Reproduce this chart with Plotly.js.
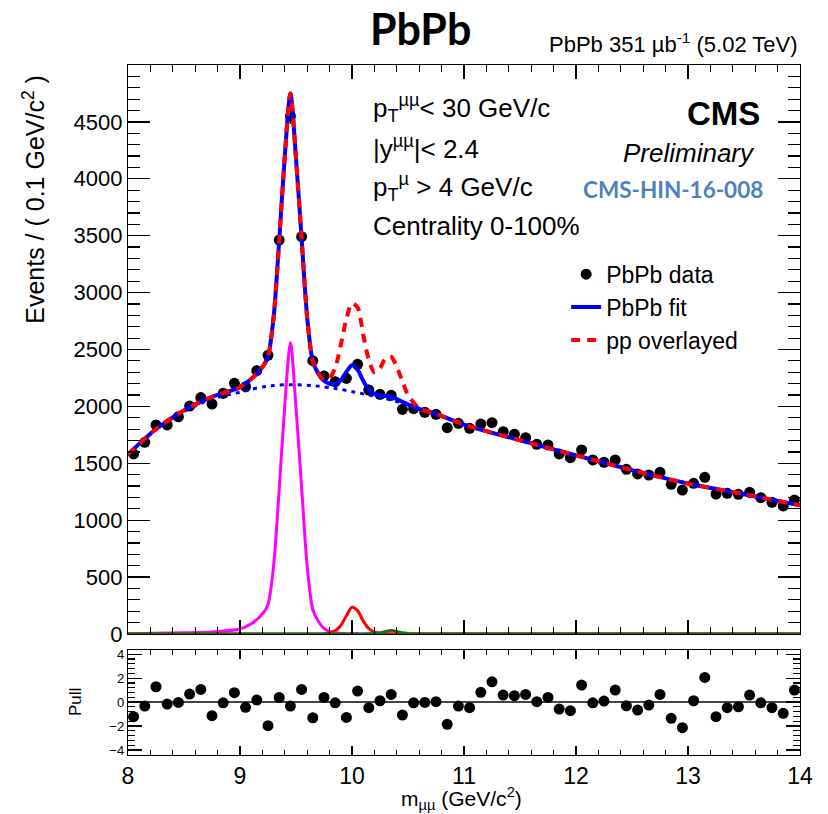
<!DOCTYPE html>
<html>
<head>
<meta charset="utf-8">
<script src="https://cdn.plot.ly/plotly-3.0.1.min.js"></script>
<style>html,body{margin:0;padding:0;background:#fff;}#plot{width:828px;height:814px;}</style>
</head>
<body>
<div id="plot"></div>
<script>
// ---- Data points (bin centers, GeV/c^2) ----
const massBins = [8.05,8.15,8.25,8.35,8.45,8.55,8.65,8.75,8.85,8.95,
  9.05,9.15,9.25,9.35,9.45,9.55,9.65,9.75,9.85,9.95,
  10.05,10.15,10.25,10.35,10.45,10.55,10.65,10.75,10.85,10.95,
  11.05,11.15,11.25,11.35,11.45,11.55,11.65,11.75,11.85,11.95,
  12.05,12.15,12.25,12.35,12.45,12.55,12.65,12.75,12.85,12.95,
  13.05,13.15,13.25,13.35,13.45,13.55,13.65,13.75,13.85,13.95];
const pbpbCounts = [1582,1684,1837,1837,1909,2003,2077,2021,2115,2203,
  2173,2314,2449,3462,4550,3491,2402,2267,2217,2247,
  2370,2144,2106,2097,1974,1980,1948,1930,1813,1851,
  1807,1845,1857,1778,1755,1725,1667,1661,1582,1549,
  1617,1529,1509,1529,1447,1406,1397,1421,1315,1265,
  1324,1377,1230,1236,1227,1245,1198,1157,1125,1177];
const pullValues = [-1.22,-0.33,1.28,-0.17,-0.03,0.67,1.06,-1.14,-0.06,0.78,
  -0.44,0.17,-1.97,0.39,-0.33,1.06,-1.31,0.39,-0.06,-1.28,
  0.92,-0.47,0.11,0.64,-1.08,-0.06,-0.03,0.03,-1.86,-0.33,
  -0.47,0.81,1.69,0.58,0.53,0.64,0.03,0.39,-0.58,-0.72,
  1.42,-0.06,0.08,1.0,-0.31,-0.67,-0.25,0.64,-1.36,-2.14,
  0.11,2.06,-1.22,-0.47,-0.39,0.58,-0.06,-0.47,-0.94,1.0];

// ---- Curves ----
const curveMass = [8.0,8.25,8.5,8.75,9.0,9.1,9.2,9.25,9.3,9.35,
  9.4,9.45,9.5,9.55,9.6,9.65,9.7,9.75,9.8,9.85,
  9.9,9.95,10.0,10.05,10.1,10.15,10.2,10.25,10.3,10.35,
  10.4,10.45,10.5,10.6,10.75,11.0,11.5,12.0,12.5,13.0,13.5,14.0];
const backgroundCurve = [1575,1795,1955,2065,2125,2150,2170,2178,2183,2187,
  2190,2190,2190,2188,2185,2182,2178,2172,2165,2158,
  2150,2140,2130,2120,2110,2100,2090,2080,2068,2055,
  2042,2030,2015,1978,1935,1840,1702,1570,1440,1322,1228,1131];
const pbpbFitCurve = [1578,1801,1965,2083,2169,2240,2345,2438,2783,3457,
  4200,4750,4180,3478,2780,2397,2288,2225,2199,2198,
  2230,2303,2362,2321,2225,2148,2110,2095,2091,2085,
  2064,2040,2019,1978,1935,1840,1702,1570,1440,1322,1228,1131];
const ppOverlayCurve = [1578,1801,1965,2083,2169,2240,2345,2438,2783,3457,
  4200,4750,4180,3478,2780,2397,2288,2235,2250,2340,
  2540,2770,2905,2870,2630,2410,2300,2335,2425,2435,
  2345,2220,2100,1985,1935,1840,1702,1570,1440,1322,1228,1131];
const ups1SCurve = [3,6,10,18,44,90,175,260,600,1270,
  2010,2560,1990,1290,595,215,110,50,22,10,
  5,3,2,1,0,0,0,0,0,0,
  0,0,0,0,0,0,0,0,0,0,0,0];
const ups2SCurve = [0,0,0,0,0,0,0,0,0,0,
  0,0,0,0,0,0,0,3,12,30,
  75,160,235,205,115,48,16,5,1,0,
  0,0,0,0,0,0,0,0,0,0,0,0];
const ups3SCurve = [0,0,0,0,0,0,0,0,0,0,
  0,0,0,0,0,0,0,0,0,0,
  0,0,0,0,0,1,4,10,22,30,
  22,10,4,0,0,0,0,0,0,0,0,0];

const yTickVals = [0,500,1000,1500,2000,2500,3000,3500,4000,4500];
const pullTickVals = [-4,-2,0,2,4];

const FONT = 'Liberation Sans, Arial, sans-serif';

const traces = [
  {x: massBins, y: pbpbCounts, type:'scatter', mode:'markers', name:'PbPb data',
   marker:{color:'#000', size:11}, error_y:{type:'sqrt', color:'#000', thickness:1.5, width:0},
   xaxis:'x', yaxis:'y', showlegend:true},
  {x: curveMass, y: backgroundCurve, type:'scatter', mode:'lines', name:'background',
   line:{color:'#0000ff', width:3, dash:'4px,5px', shape:'spline', smoothing:0.8}, showlegend:false, xaxis:'x', yaxis:'y'},
  {x: curveMass, y: pbpbFitCurve, type:'scatter', mode:'lines', name:'PbPb fit',
   line:{color:'#0000ff', width:4, shape:'spline', smoothing:0.8}, xaxis:'x', yaxis:'y', showlegend:true},
  {x: curveMass, y: ppOverlayCurve, type:'scatter', mode:'lines', name:'pp overlayed',
   line:{color:'#ff0000', width:4, dash:'9px,7px', shape:'spline', smoothing:0.8}, xaxis:'x', yaxis:'y', showlegend:true},
  {x: curveMass, y: ups1SCurve, type:'scatter', mode:'lines', name:'1S',
   line:{color:'#ff00ff', width:3, shape:'spline', smoothing:0.8}, showlegend:false, xaxis:'x', yaxis:'y'},
  {x: curveMass, y: ups2SCurve, type:'scatter', mode:'lines', name:'2S',
   line:{color:'#ff0000', width:3, shape:'spline', smoothing:0.8}, showlegend:false, xaxis:'x', yaxis:'y'},
  {x: curveMass, y: ups3SCurve, type:'scatter', mode:'lines', name:'3S',
   line:{color:'#137313', width:3, shape:'spline', smoothing:0.8}, showlegend:false, xaxis:'x', yaxis:'y'},
  {x: massBins, y: pullValues, type:'scatter', mode:'markers', name:'pull',
   marker:{color:'#000', size:11}, showlegend:false, xaxis:'x2', yaxis:'y2'}
];

const axisCommon = {showline:true, mirror:'allticks', linecolor:'#000', linewidth:1.2,
  ticks:'inside', tickcolor:'#000', showgrid:false, zeroline:false};

const layout = {
  width:828, height:814,
  margin:{l:128, r:28, t:65, b:59},
  paper_bgcolor:'#fff', plot_bgcolor:'#fff',
  font:{family:FONT, color:'#000'},
  showlegend:true,
  legend:{x:0.652, y:0.728, xanchor:'left', yanchor:'top', bgcolor:'rgba(0,0,0,0)',
          font:{size:23, family:FONT}, traceorder:'normal', itemwidth:30, tracegroupgap:0},
  xaxis: Object.assign({}, axisCommon, {range:[8,14], dtick:1, ticklen:14, tickwidth:1.2,
     minor:{dtick:0.2, ticklen:7, ticks:'inside', tickcolor:'#000'},
     showticklabels:false, anchor:'y', domain:[0,1]}),
  yaxis: Object.assign({}, axisCommon, {range:[0,5000], tickmode:'array', tickvals:yTickVals, ticklen:22, tickwidth:1.2,
     minor:{tickmode:'linear', tick0:0, dtick:100, ticklen:12, ticks:'inside', tickcolor:'#000'},
     tickfont:{size:22, family:FONT}, domain:[0.1754,1], anchor:'x'}),
  xaxis2: Object.assign({}, axisCommon, {range:[8,14], dtick:1, ticklen:9, tickwidth:1.2,
     minor:{dtick:0.2, ticklen:5, ticks:'inside', tickcolor:'#000'},
     tickfont:{size:23, family:FONT}, anchor:'y2', domain:[0,1], matches:'x'}),
  yaxis2: Object.assign({}, axisCommon, {range:[-4.42,4.35], tickmode:'array', tickvals:pullTickVals, ticklen:14, tickwidth:1.2,
     minor:{tickmode:'linear', tick0:0, dtick:0.4, ticklen:7, ticks:'inside', tickcolor:'#000'},
     zeroline:true, zerolinecolor:'#444', zerolinewidth:1.2,
     tickfont:{size:13, family:FONT}, domain:[0,0.1522], anchor:'x2'}),
  annotations:[
    {text:'<b>PbPb</b>', xref:'paper', yref:'paper', x:0.436, y:1.053, xanchor:'center', yanchor:'middle',
     showarrow:false, font:{size:43, family:'Lato, Open Sans, sans-serif'}},
    {text:'PbPb 351 µb<sup>-1</sup> (5.02 TeV)', xref:'paper', yref:'paper', x:1.0, y:1.032, xanchor:'right', yanchor:'middle',
     showarrow:false, font:{size:22, family:FONT}},
    {text:'Events / ( 0.1 GeV/c<sup>2</sup> )', xref:'paper', yref:'paper', x:-0.1410, y:0.805, xanchor:'center', yanchor:'middle',
     textangle:-90, showarrow:false, font:{size:25, family:FONT}},
    {text:'Pull', xref:'paper', yref:'paper', x:-0.0789, y:0.0768, xanchor:'center', yanchor:'middle',
     textangle:-90, showarrow:false, font:{size:17, family:FONT}},
    {text:'m<sub>µµ</sub> (GeV/c<sup>2</sup>)', xref:'paper', yref:'paper', x:0.497, y:-0.0635, xanchor:'center', yanchor:'middle',
     showarrow:false, font:{size:21, family:FONT}},
    {text:'p<sub>T</sub><sup>µµ</sup>< 30 GeV/c', xref:'paper', yref:'paper', x:0.361, y:0.938, xanchor:'left', yanchor:'middle',
     showarrow:false, font:{size:26, family:FONT}},
    {text:'|y<sup>µµ</sup>|< 2.4', xref:'paper', yref:'paper', x:0.361, y:0.881, xanchor:'left', yanchor:'middle',
     showarrow:false, font:{size:26, family:FONT}},
    {text:'p<sub>T</sub><sup>µ</sup> > 4 GeV/c', xref:'paper', yref:'paper', x:0.361, y:0.823, xanchor:'left', yanchor:'middle',
     showarrow:false, font:{size:26, family:FONT}},
    {text:'Centrality 0-100%', xref:'paper', yref:'paper', x:0.361, y:0.767, xanchor:'left', yanchor:'middle',
     showarrow:false, font:{size:26, family:FONT}},
    {text:'<b>CMS</b>', xref:'paper', yref:'paper', x:0.9435, y:0.930, xanchor:'right', yanchor:'middle',
     showarrow:false, font:{size:33, family:FONT}},
    {text:'<i>Preliminary</i>', xref:'paper', yref:'paper', x:0.936, y:0.872, xanchor:'right', yanchor:'middle',
     showarrow:false, font:{size:26, family:FONT}},
    {text:'<b>CMS-HIN-16-008</b>', xref:'paper', yref:'paper', x:0.948, y:0.820, xanchor:'right', yanchor:'middle',
     showarrow:false, font:{size:22.5, family:'Lato, Open Sans, sans-serif', color:'#4f81bd'}}
  ]
};

Plotly.newPlot('plot', traces, layout, {displayModeBar:false, staticPlot:true});
</script>
</body>
</html>
